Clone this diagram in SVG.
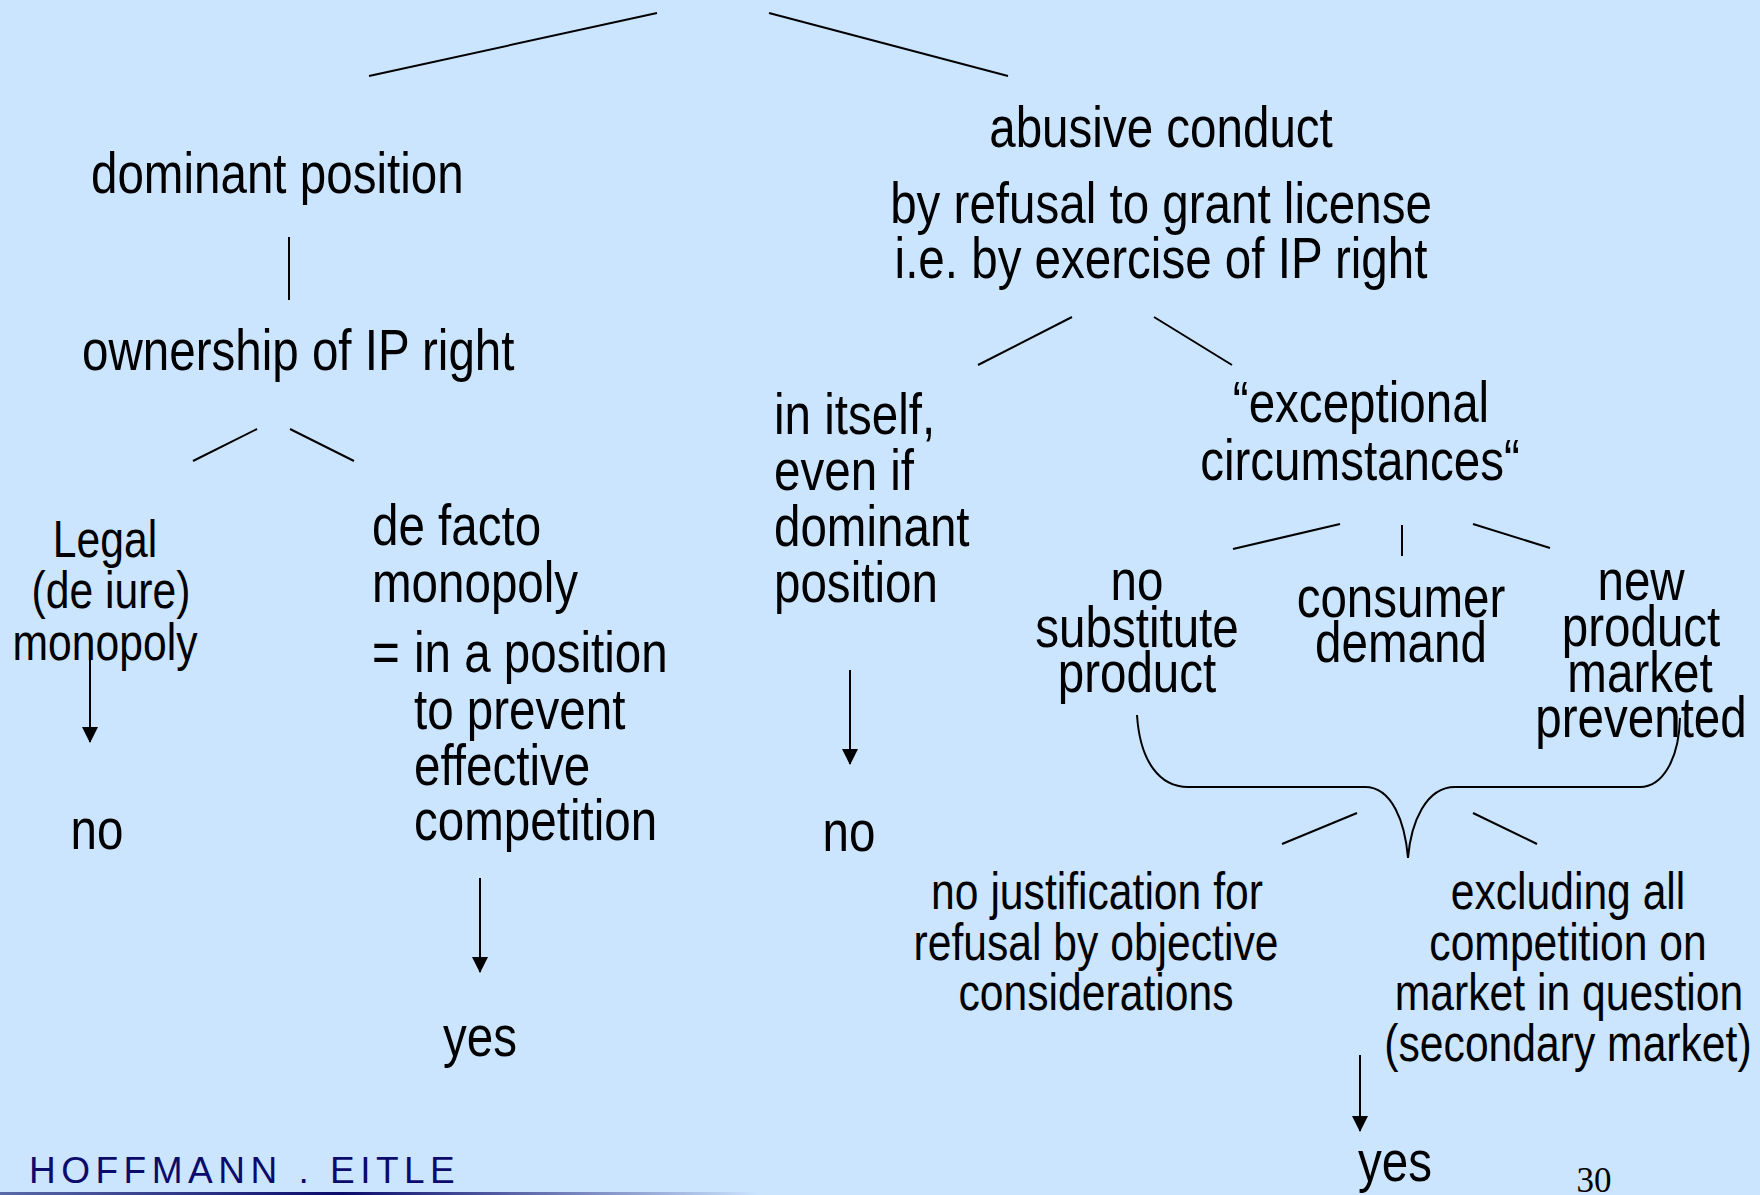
<svg xmlns="http://www.w3.org/2000/svg" width="1760" height="1195" viewBox="0 0 1760 1195">
  <defs>
    <style>
      .t { font-family: "Liberation Sans Narrow", "Liberation Sans", Arial, sans-serif; fill: #000; transform-box: fill-box; }
      .big { font-size: 58px; }
      .mid { font-size: 52px; }
      /* condensed look: narrow each line about its own anchor */
      .c { text-anchor: middle; transform-origin: center; transform: scaleX(0.82); }
      .s { transform-origin: left center; transform: scaleX(0.82); }
      .ln { stroke: #000; stroke-width: 2; fill: none; }
      .arrow { stroke: #000; stroke-width: 2; fill: none; marker-end: url(#head); }
      .logo { font-family: "Liberation Sans", Arial, sans-serif; font-size: 37px; fill: #0b0b6b; letter-spacing: 5.5px; }
      .page { font-family: "Liberation Serif", "Times New Roman", serif; font-size: 35px; fill: #000; }
    </style>
    <marker id="head" viewBox="0 0 16 16" refX="15" refY="8" markerWidth="16" markerHeight="16" markerUnits="userSpaceOnUse" orient="auto">
      <path d="M0,0 L16,8 L0,16 Z" fill="#000"/>
    </marker>
    <linearGradient id="rule" x1="0" y1="0" x2="1" y2="0">
      <stop offset="0" stop-color="#5a6aa8"/>
      <stop offset="0.45" stop-color="#0b0b6b"/>
      <stop offset="1" stop-color="#cce5ff"/>
    </linearGradient>
  </defs>

  <rect x="0" y="0" width="1760" height="1195" fill="#cce5ff"/>

  <!-- connectors -->
  <g id="connectors">
    <line class="ln" x1="369" y1="76" x2="657" y2="13"/>
    <line class="ln" x1="769" y1="13" x2="1008" y2="76"/>
    <line class="ln" x1="289" y1="237" x2="289" y2="300"/>
    <line class="ln" x1="193" y1="461" x2="257" y2="429"/>
    <line class="ln" x1="290" y1="429" x2="354" y2="461"/>
    <line class="ln" x1="978" y1="365" x2="1072" y2="317"/>
    <line class="ln" x1="1154" y1="317" x2="1232" y2="365"/>
    <line class="ln" x1="1233" y1="549" x2="1340" y2="524"/>
    <line class="ln" x1="1402" y1="525" x2="1402" y2="556"/>
    <line class="ln" x1="1473" y1="524" x2="1550" y2="548"/>
    <path class="ln" d="M1137,715 C1140,762 1160,787 1188,787 L1365,787 C1392,787 1405,822 1408,858 C1411,822 1426,787 1455,787 L1640,787 C1662,787 1679,760 1680,718"/>
    <line class="ln" x1="1282" y1="844" x2="1357" y2="813"/>
    <line class="ln" x1="1473" y1="813" x2="1537" y2="844"/>
    <line class="arrow" x1="90" y1="650" x2="90" y2="742"/>
    <line class="arrow" x1="480" y1="878" x2="480" y2="972"/>
    <line class="arrow" x1="850" y1="670" x2="850" y2="764"/>
    <line class="arrow" x1="1360" y1="1055" x2="1360" y2="1131"/>
  </g>

  <g id="dominant-position">
    <text class="t big s" x="91" y="193">dominant position</text>
  </g>
  <g id="ownership">
    <text class="t big s" x="82" y="370">ownership of IP right</text>
  </g>
  <g id="legal-monopoly">
    <text class="t mid c" x="105" y="557">Legal</text>
    <text class="t mid c" x="111" y="608">(de iure)</text>
    <text class="t mid c" x="105" y="660">monopoly</text>
  </g>
  <g id="no-left">
    <text class="t big c" x="97" y="849">no</text>
  </g>
  <g id="de-facto">
    <text class="t big s" x="372" y="545">de facto</text>
    <text class="t big s" x="372" y="602">monopoly</text>
    <text class="t big s" x="372" y="672">=</text>
    <text class="t big s" x="414" y="672">in a position</text>
    <text class="t big s" x="414" y="729">to prevent</text>
    <text class="t big s" x="414" y="785">effective</text>
    <text class="t big s" x="414" y="840">competition</text>
  </g>
  <g id="yes-left">
    <text class="t big c" x="480" y="1056">yes</text>
  </g>
  <g id="abusive-conduct">
    <text class="t big c" x="1161" y="147">abusive conduct</text>
    <text class="t big c" x="1161" y="223">by refusal to grant license</text>
    <text class="t big c" x="1161" y="278">i.e. by exercise of IP right</text>
  </g>
  <g id="in-itself">
    <text class="t big s" x="774" y="434">in itself,</text>
    <text class="t big s" x="774" y="490">even if</text>
    <text class="t big s" x="774" y="546">dominant</text>
    <text class="t big s" x="774" y="602">position</text>
  </g>
  <g id="no-right">
    <text class="t big c" x="849" y="851">no</text>
  </g>
  <g id="exceptional">
    <text class="t big c" x="1361" y="422">“exceptional</text>
    <text class="t big c" x="1360" y="480">circumstances“</text>
  </g>
  <g id="no-substitute">
    <text class="t big c" x="1137" y="600">no</text>
    <text class="t big c" x="1137" y="647">substitute</text>
    <text class="t big c" x="1137" y="692">product</text>
  </g>
  <g id="consumer-demand">
    <text class="t big c" x="1401" y="617">consumer</text>
    <text class="t big c" x="1401" y="662">demand</text>
  </g>
  <g id="new-product">
    <text class="t big c" x="1641" y="600">new</text>
    <text class="t big c" x="1641" y="646">product</text>
    <text class="t big c" x="1640" y="692">market</text>
    <text class="t big c" x="1641" y="737">prevented</text>
  </g>
  <g id="no-justification">
    <text class="t mid c" x="1097" y="909">no justification for</text>
    <text class="t mid c" x="1096" y="960">refusal by objective</text>
    <text class="t mid c" x="1096" y="1010">considerations</text>
  </g>
  <g id="excluding">
    <text class="t mid c" x="1568" y="909">excluding all</text>
    <text class="t mid c" x="1568" y="960">competition on</text>
    <text class="t mid c" x="1569" y="1010">market in question</text>
    <text class="t mid c" x="1568" y="1061">(secondary market)</text>
  </g>
  <g id="yes-right">
    <text class="t big c" x="1395" y="1181">yes</text>
  </g>

  <!-- footer -->
  <text class="logo" x="29" y="1183">HOFFMANN . EITLE</text>
  <rect x="0" y="1192" width="760" height="3" fill="url(#rule)"/>
  <text class="page" x="1594" y="1192" text-anchor="middle">30</text>
</svg>
